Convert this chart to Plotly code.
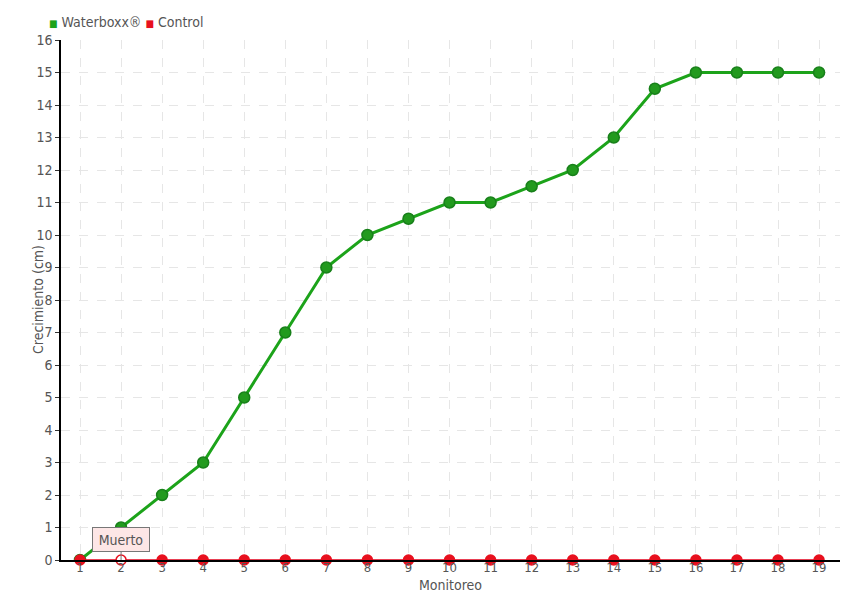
import plotly.graph_objects as go

monitoreo = list(range(1, 20))
waterboxx = [0, 1, 2, 3, 5, 7, 9, 10, 10.5, 11, 11, 11.5, 12, 13, 14.5, 15, 15, 15, 15]
control = [0] * 19
y_ticks = list(range(0, 17))

font_family = "DejaVu Sans Condensed, DejaVu Sans, sans-serif"
txt = "#555555"
green = "#1ca31a"
red = "#e8101e"

fig = go.Figure()
fig.add_trace(go.Scatter(
    x=monitoreo, y=waterboxx, name="Waterboxx®", mode="lines+markers",
    line=dict(color=green, width=3), showlegend=False,
    marker=dict(color="#229a1e", size=11, line=dict(color="#18801a", width=1.5)),
))
ctrl_fill = [red] * 19
ctrl_fill[1] = "#ffffff"
fig.add_trace(go.Scatter(
    x=monitoreo, y=control, name="Control", mode="lines+markers",
    line=dict(color="#e0001a", width=1.5), showlegend=False,
    marker=dict(color=ctrl_fill, size=10, line=dict(color=red, width=1.5)),
    cliponaxis=False,
))

# legend drawn as text with coloured square swatches
fig.add_annotation(
    xref="paper", yref="paper", x=0, y=1, xanchor="left", yanchor="bottom",
    xshift=-14, yshift=8, showarrow=False, align="left",
    text=(f"<span style='color:{green};font-size:10px'>■</span> Waterboxx® "
          f"<span style='color:{red};font-size:10px'>■</span> Control"),
    font=dict(family=font_family, size=14, color=txt),
)

fig.add_annotation(
    x=monitoreo[1], y=control[1], text="Muerto", showarrow=True,
    arrowhead=0, arrowwidth=1, arrowcolor="#777", ax=0, ay=-8,
    yanchor="bottom", bgcolor="#fde6e6", bordercolor="#777777", borderwidth=1,
    width=52, height=19, borderpad=2,
    font=dict(family=font_family, size=14, color=txt),
)

# axis titles
fig.add_annotation(
    xref="paper", yref="paper", x=0.5, y=0, xanchor="center", yanchor="top",
    yshift=-15, showarrow=False, text="Monitoreo",
    font=dict(family=font_family, size=14, color=txt),
)
fig.add_annotation(
    xref="paper", yref="paper", x=0, y=0.5, xanchor="center", yanchor="middle",
    xshift=-23, showarrow=False, text="Crecimiento (cm)", textangle=-90,
    font=dict(family=font_family, size=14, color=txt),
)

fig.update_layout(
    width=852, height=592,
    margin=dict(l=53, r=20, t=32, b=40, autoexpand=False),
    paper_bgcolor="white", plot_bgcolor="white",
    font=dict(family=font_family, size=14, color=txt),
    showlegend=False,
    xaxis=dict(
        range=[0.537, 19.51], tickmode="array", tickvals=monitoreo,
        showgrid=True, gridcolor="#e6e6e6", griddash="dash", gridwidth=1,
        showline=True, linecolor="black", linewidth=1.5, automargin=False,
        ticks="", zeroline=False, tickfont=dict(size=13, color=txt),
        ticklabelstandoff=-5,
    ),
    yaxis=dict(
        range=[0, 16], tickmode="array", tickvals=y_ticks,
        showgrid=True, gridcolor="#e6e6e6", griddash="dash", gridwidth=1,
        showline=True, linecolor="black", linewidth=1.5, automargin=False,
        ticks="outside", ticklen=4, tickcolor="#333", zeroline=False,
        tickfont=dict(size=14, color=txt),
    ),
)

fig.write_html("out.html")
